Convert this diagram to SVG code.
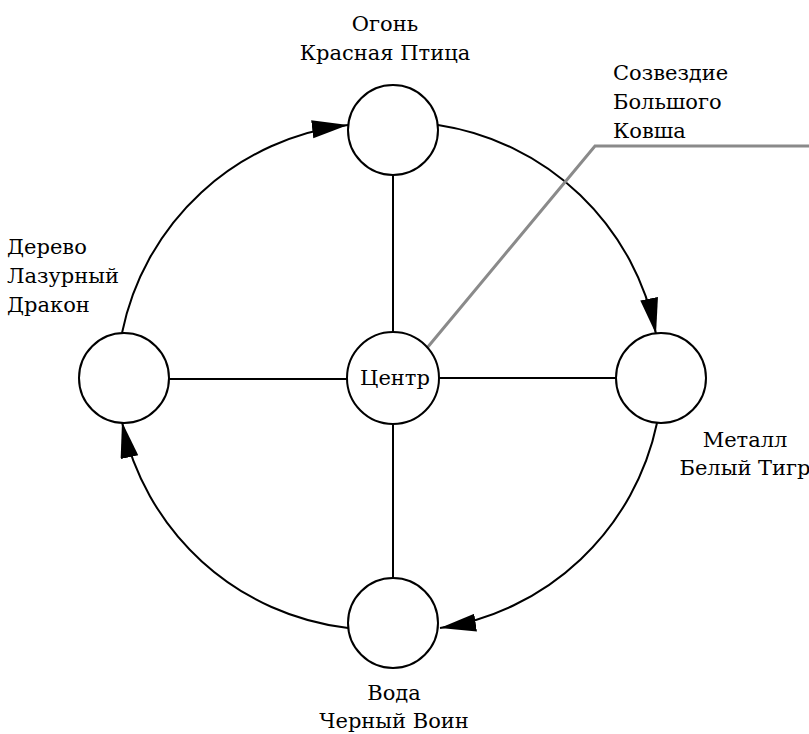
<svg xmlns="http://www.w3.org/2000/svg" width="809" height="734" viewBox="0 0 809 734">
<style>
.node{fill:#fff;stroke:#000;stroke-width:2}
.edge{fill:none;stroke:#000;stroke-width:2}
.pointer{fill:none;stroke:#8a8a8a;stroke-width:3}
text{font-family:"DejaVu Serif","Liberation Serif",serif;font-size:21px;fill:#000}
</style>
<defs>
<marker id="arr" markerUnits="userSpaceOnUse" markerWidth="40" markerHeight="22" refX="36" refY="9" orient="auto">
<path d="M0,0 L36,9 L0,18 Z" fill="#000"/>
</marker>
</defs>
<rect width="809" height="734" fill="#fff"/>
<g id="connectors">
<path class="edge" d="M393,176 L393,333"/>
<path class="edge" d="M393,424 L393,578"/>
<path class="edge" d="M168,379 L347,379"/>
<path class="edge" d="M439,378 L616,378"/>
<path class="edge" d="M122,333 A262,262 0 0,1 348,125" marker-end="url(#arr)"/>
<path class="edge" d="M438,125 A262,262 0 0,1 656,334" marker-end="url(#arr)"/>
<path class="edge" d="M657,423 A262,262 0 0,1 440,628" marker-end="url(#arr)"/>
<path class="edge" d="M348,628 A262,262 0 0,1 122,422" marker-end="url(#arr)"/>
<path class="pointer" d="M427,348 L595,146 L809,146"/>
</g>
<g id="fire">
<circle class="node" cx="393" cy="130" r="45"/>
<text text-anchor="middle" x="385" y="31">Огонь</text>
<text text-anchor="middle" x="385" y="60">Красная Птица</text>
</g>
<g id="wood">
<circle class="node" cx="124" cy="378" r="45"/>
<text x="7" y="254">Дерево</text>
<text x="7" y="283">Лазурный</text>
<text x="7" y="312">Дракон</text>
</g>
<g id="center">
<circle class="node" cx="393" cy="378" r="46"/>
<text text-anchor="middle" x="395" y="385">Центр</text>
</g>
<g id="metal">
<circle class="node" cx="661" cy="378" r="45"/>
<text text-anchor="middle" x="745" y="447">Металл</text>
<text text-anchor="middle" x="745" y="475">Белый Тигр</text>
</g>
<g id="water">
<circle class="node" cx="393" cy="623" r="45"/>
<text text-anchor="middle" x="394" y="700">Вода</text>
<text text-anchor="middle" x="394" y="728">Черный Воин</text>
</g>
<g id="constellation">
<text x="613" y="80">Созвездие</text>
<text x="613" y="109">Большого</text>
<text x="613" y="138">Ковша</text>
</g>
</svg>
